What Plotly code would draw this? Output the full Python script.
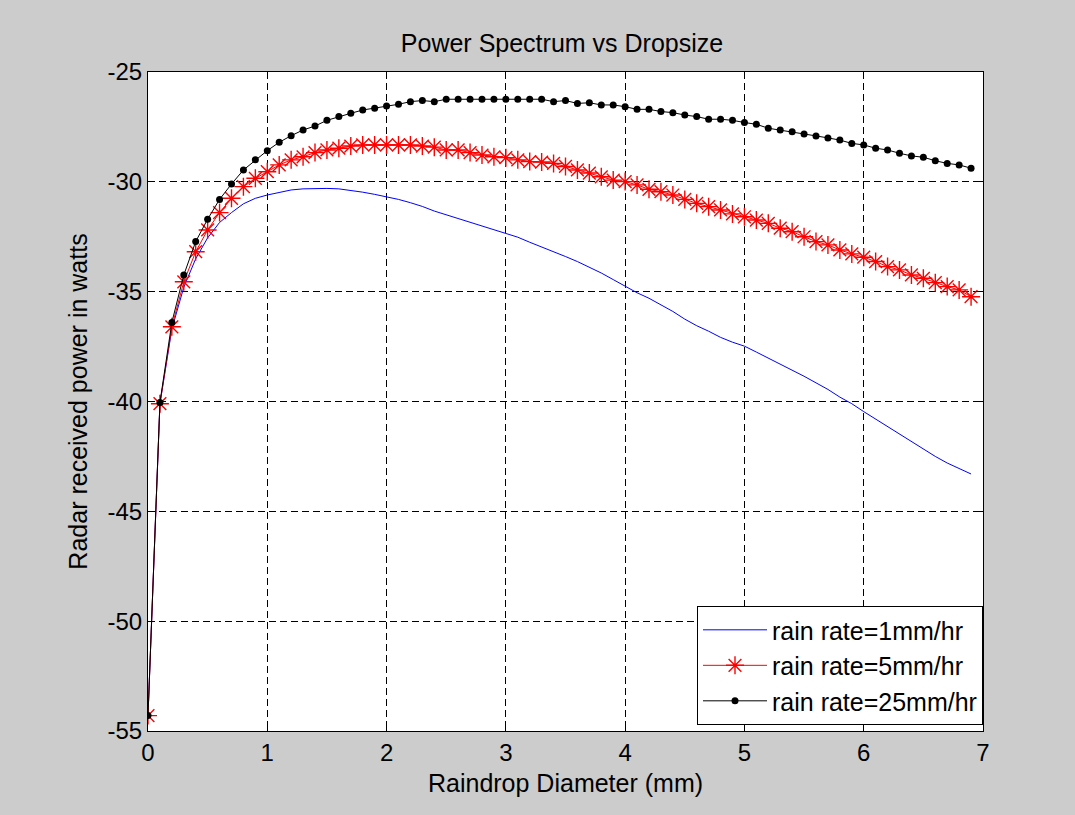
import plotly.graph_objects as go

# Raindrop diameter samples (mm)
diameter_mm = [
    0.0, 0.1, 0.2, 0.3, 0.4, 0.5, 0.6, 0.7, 0.8, 0.9,
    1.0, 1.1, 1.2, 1.3, 1.4, 1.5, 1.6, 1.7, 1.8, 1.9,
    2.0, 2.1, 2.2, 2.3, 2.4, 2.5, 2.6, 2.7, 2.8, 2.9,
    3.0, 3.1, 3.2, 3.3, 3.4, 3.5, 3.6, 3.7, 3.8, 3.9,
    4.0, 4.1, 4.2, 4.3, 4.4, 4.5, 4.6, 4.7, 4.8, 4.9,
    5.0, 5.1, 5.2, 5.3, 5.4, 5.5, 5.6, 5.7, 5.8, 5.9,
    6.0, 6.1, 6.2, 6.3, 6.4, 6.5, 6.6, 6.7, 6.8, 6.9,
]

# Received power for rain rate = 1 mm/hr
power_r1 = [
    -54.3, -40.1, -36.7, -34.8, -33.5, -32.55, -31.85, -31.4, -31.0, -30.75,
    -30.6, -30.47, -30.37, -30.32, -30.3, -30.3, -30.32, -30.38, -30.47, -30.57,
    -30.68, -30.8, -30.95, -31.12, -31.33, -31.5, -31.68, -31.85, -32.0, -32.17,
    -32.34, -32.52, -32.75, -32.96, -33.18, -33.4, -33.63, -33.88, -34.15, -34.45,
    -34.77, -35.05, -35.3, -35.6, -35.9, -36.25, -36.55, -36.8, -37.08, -37.3,
    -37.48, -37.75, -38.02, -38.3, -38.55, -38.85, -39.15, -39.45, -39.8, -40.1,
    -40.46, -40.8, -41.15, -41.5, -41.85, -42.2, -42.5, -42.8, -43.05, -43.3,
]

# Received power for rain rate = 5 mm/hr
power_r5 = [
    -54.3, -40.1, -36.6, -34.55, -33.18, -32.19, -31.4, -30.75, -30.22, -29.84,
    -29.54, -29.23, -29.0, -28.86, -28.67, -28.55, -28.47, -28.37, -28.32, -28.32,
    -28.32, -28.32, -28.32, -28.37, -28.42, -28.55, -28.55, -28.67, -28.78, -28.86,
    -28.9, -29.0, -29.08, -29.1, -29.16, -29.3, -29.46, -29.6, -29.77, -29.92,
    -29.99, -30.14, -30.34, -30.45, -30.6, -30.8, -30.98, -31.13, -31.28, -31.46,
    -31.59, -31.74, -31.89, -32.11, -32.27, -32.5, -32.72, -32.87, -33.1, -33.28,
    -33.43, -33.63, -33.86, -34.01, -34.24, -34.39, -34.59, -34.77, -34.92, -35.23,
]

# Received power for rain rate = 25 mm/hr
power_r25 = [
    -54.3, -40.05, -36.4, -34.24, -32.72, -31.7, -30.8, -30.1, -29.46, -29.0,
    -28.58, -28.2, -27.9, -27.64, -27.46, -27.2, -27.03, -26.88, -26.73, -26.65,
    -26.55, -26.47, -26.35, -26.3, -26.35, -26.24, -26.24, -26.24, -26.24, -26.24,
    -26.24, -26.24, -26.24, -26.24, -26.35, -26.3, -26.43, -26.4, -26.5, -26.5,
    -26.58, -26.7, -26.7, -26.8, -26.85, -26.96, -27.03, -27.15, -27.15, -27.2,
    -27.3, -27.38, -27.56, -27.64, -27.72, -27.82, -27.91, -28.0, -28.1, -28.25,
    -28.32, -28.47, -28.55, -28.7, -28.82, -28.88, -29.04, -29.16, -29.23, -29.38,
]

series_names = ["rain rate=1mm/hr", "rain rate=5mm/hr", "rain rate=25mm/hr"]

x_tick_vals = [0, 1, 2, 3, 4, 5, 6, 7]
x_tick_text = ["0", "1", "2", "3", "4", "5", "6", "7"]
y_tick_vals = [-55, -50, -45, -40, -35, -30, -25]
y_tick_text = ["-55", "-50", "-45", "-40", "-35", "-30", "-25"]

FONT = "Liberation Sans, Arial, sans-serif"
TICK_FS = 24
TEXT_FS = 25

fig = go.Figure()

fig.add_trace(go.Scatter(
    x=diameter_mm, y=power_r1, name=series_names[0], mode="lines",
    line=dict(color="#0000ff", width=1),
))
fig.add_trace(go.Scatter(
    x=diameter_mm, y=power_r5, name=series_names[1], mode="lines+markers",
    line=dict(color="#ff0000", width=1),
    marker=dict(symbol="asterisk-open", size=15, color="#ff0000",
                line=dict(color="#ff0000", width=1.4)),
))
fig.add_trace(go.Scatter(
    x=diameter_mm, y=power_r25, name=series_names[2], mode="lines+markers",
    line=dict(color="#000000", width=1),
    marker=dict(symbol="circle", size=7, color="#000000"),
))

axis_common = dict(
    showline=True, linecolor="#000000", linewidth=1, mirror="allticks",
    ticks="inside", ticklen=7, tickwidth=1, tickcolor="#000000",
    showgrid=True, gridcolor="#000000", gridwidth=1, griddash="7px,4px",
    zeroline=False,
    tickfont=dict(family=FONT, size=TICK_FS, color="#000000"),
)

fig.update_xaxes(
    range=[0, 7], tickmode="array", tickvals=x_tick_vals, ticktext=x_tick_text,
    title=dict(text="Raindrop Diameter (mm)",
               font=dict(family=FONT, size=TEXT_FS, color="#000000"), standoff=9),
    **axis_common,
)
fig.update_yaxes(
    range=[-55, -25], tickmode="array", tickvals=y_tick_vals, ticktext=y_tick_text,
    title=dict(text="Radar received power in watts",
               font=dict(family=FONT, size=TEXT_FS, color="#000000"), standoff=12),
    **axis_common,
)

fig.update_layout(
    width=1075, height=815,
    margin=dict(l=148, r=92, t=72, b=84),
    paper_bgcolor="#cccccc", plot_bgcolor="#ffffff",
    font=dict(family=FONT, size=TEXT_FS, color="#000000"),
    title=dict(text="Power Spectrum vs Dropsize", x=562 / 1075, xanchor="center",
               y=1 - 43 / 815, yanchor="middle", yref="container",
               font=dict(family=FONT, size=TEXT_FS, color="#000000")),
    showlegend=True,
    legend=dict(
        x=1, xanchor="right", y=0.009, yanchor="bottom",
        bgcolor="#ffffff", bordercolor="#000000", borderwidth=1,
        font=dict(family=FONT, size=TEXT_FS, color="#000000"),
        itemwidth=64, tracegroupgap=0,
    ),
)

fig.write_html("out.html")
